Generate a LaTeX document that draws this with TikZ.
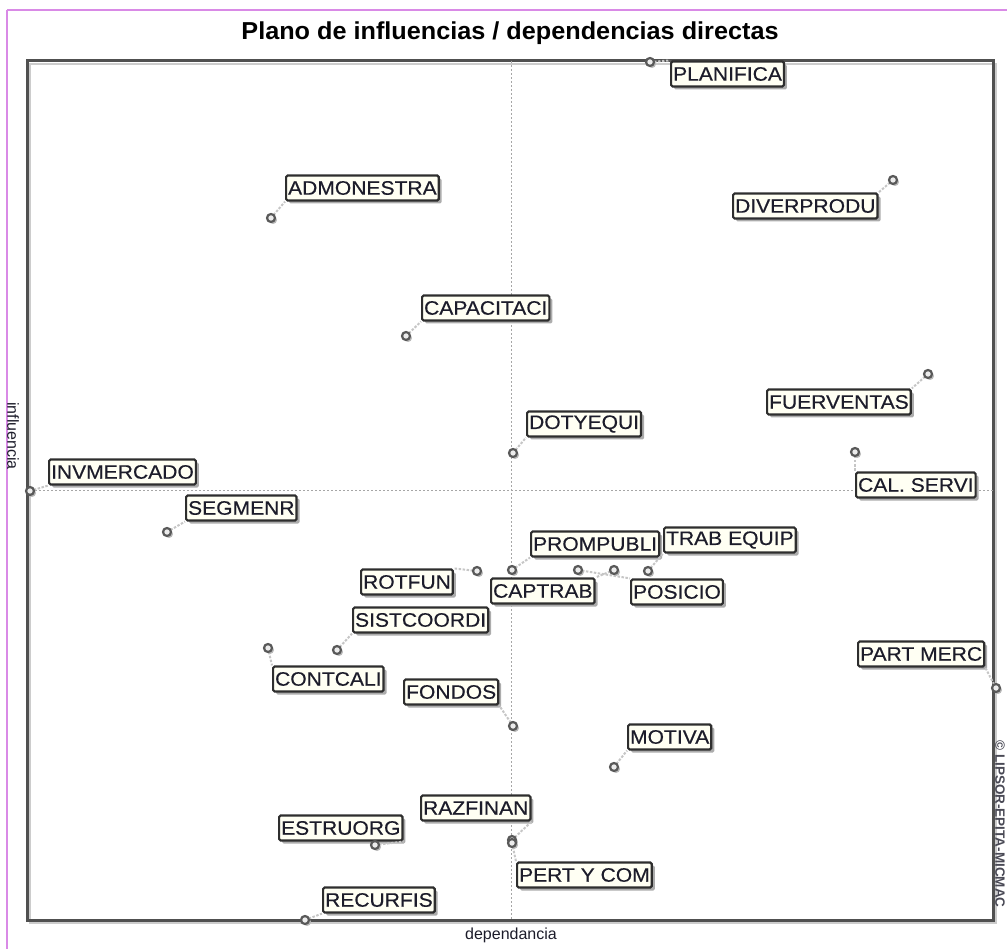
\documentclass[tikz,border=0pt]{standalone}
\usepackage{fontspec}
\setmainfont{Liberation Sans}
\newfontfamily\labelfont[FakeStretch=1.08, FakeBold=0.4]{Liberation Sans}
\newfontfamily\titlefont[FakeStretch=1.03]{Liberation Sans}
\usetikzlibrary{shadows}
\definecolor{winedge}{HTML}{D98AE6}
\definecolor{framegray}{HTML}{505050}
\definecolor{boxfill}{HTML}{FFFFF3}
\definecolor{boxedge}{HTML}{2E2E2E}
\definecolor{inkcol}{HTML}{1C1C2A}
\tikzset{
  varlabel/.style={draw=boxedge, line width=2.2pt, fill=boxfill, rounded corners=1.5pt,
    text=inkcol, inner xsep=2pt, inner ysep=0pt, minimum height=25pt, anchor=west,
    font=\labelfont\fontsize{19.5}{19.5}\selectfont,
    drop shadow={shadow xshift=3pt, shadow yshift=-3pt, fill=gray!65, opacity=1}},
  varpoint/.style={circle, draw=framegray!95, line width=2.2pt, fill=gray!15, inner sep=0pt,
    minimum size=8pt,
    drop shadow={shadow xshift=2pt, shadow yshift=-2pt, fill=gray!55, opacity=1}},
  leader/.style={draw=gray!45, dash pattern=on 2.5pt off 1.5pt, line width=2pt},
  axisline/.style={draw=gray!70, dash pattern=on 2pt off 2pt, line width=1pt},
}
\begin{document}
\begin{tikzpicture}[x=1pt, y=-1pt]
\useasboundingbox (0,0) rectangle (1007,949);
% window edges
\draw[winedge, line width=1.5pt] (7,10) -- (1007,10);
\draw[winedge, line width=1.5pt] (7,10) -- (7,949);
% title
\node[font=\titlefont\bfseries\fontsize{24.5}{24.5}\selectfont, text=black] (title) at (510,33)
  {Plano de influencias / dependencias directas};
% plot frame with its shadow
\draw[gray!40, line width=2pt] (30,64) rectangle (996,923);
\draw[framegray, line width=3pt] (27,61) rectangle (993,920);
% axes through the mean values
\draw[axisline] (511,61) -- (511,920);
\draw[axisline] (27,490) -- (993,490);
% axis names and credit line
\node[font=\fontsize{16}{16}\selectfont, text=inkcol] (xname) at (511,935) {dependancia};
\node[font=\fontsize{16}{16}\selectfont, text=inkcol, rotate=-90] (yname) at (13,436) {influencia};
\node[font=\bfseries\fontsize{13.5}{13.5}\selectfont, text=inkcol!80, rotate=-90] (credit) at (1000,824) {© LIPSOR-EPITA-MICMAC};

% variables: position marks
\foreach \n/\x/\y in {1/650/62, 2/271/218, 3/893/180, 4/406/336, 5/928/374, 6/513/453,
  7/30/491, 8/855/452, 9/167/532, 10/512/570, 11/648/571, 12/477/571, 13/614/570,
  14/578/570, 15/337/650, 16/268/648, 17/996/688, 18/513/726, 19/614/767,
  20/512/840, 21/375/845, 22/512/843, 23/305/920}
  \coordinate (p\n) at (\x,\y);

% labels
\node[varlabel] (l1) at (670,74) {PLANIFICA};
\node[varlabel] (l2) at (285,188) {ADMONESTRA};
\node[varlabel] (l3) at (732,206) {DIVERPRODU};
\node[varlabel] (l4) at (421,308) {CAPACITACI};
\node[varlabel] (l5) at (766,402) {FUERVENTAS};
\node[varlabel] (l6) at (526,424) {DOTYEQUI};
\node[varlabel] (l7) at (48,472) {INVMERCADO};
\node[varlabel] (l8) at (855,485) {CAL. SERVI};
\node[varlabel] (l9) at (185,508) {SEGMENR};
\node[varlabel] (l10) at (530,544) {PROMPUBLI};
\node[varlabel] (l11) at (663,540) {TRAB EQUIP};
\node[varlabel] (l12) at (360,582) {ROTFUN};
\node[varlabel] (l13) at (490,591) {CAPTRAB};
\node[varlabel] (l14) at (630,592) {POSICIO};
\node[varlabel] (l15) at (352,620) {SISTCOORDI};
\node[varlabel] (l16) at (272,679) {CONTCALI};
\node[varlabel] (l17) at (857,654) {PART MERC};
\node[varlabel] (l18) at (403,692) {FONDOS};
\node[varlabel] (l19) at (627,737) {MOTIVA};
\node[varlabel] (l20) at (420,808) {RAZFINAN};
\node[varlabel] (l21) at (278,828) {ESTRUORG};
\node[varlabel] (l22) at (516,875) {PERT Y COM};
\node[varlabel] (l23) at (322,900) {RECURFIS};

% leaders from each mark to its label
\foreach \n/\a in {1/north west, 2/south west, 3/north east, 4/south west, 5/north east,
  6/south west, 7/south west, 8/north west, 9/south west, 10/south west, 11/south west,
  12/north east, 13/north east, 14/north west, 15/south west, 16/north west,
  17/south east, 18/south east, 19/south west, 20/south east, 21/south east,
  22/north west, 23/south west}
  \draw[leader] (p\n) -- (l\n.\a);

% marks drawn on top
\foreach \n in {1,...,23}
  \node[varpoint] (m\n) at (p\n) {};
\end{tikzpicture}
\end{document}
